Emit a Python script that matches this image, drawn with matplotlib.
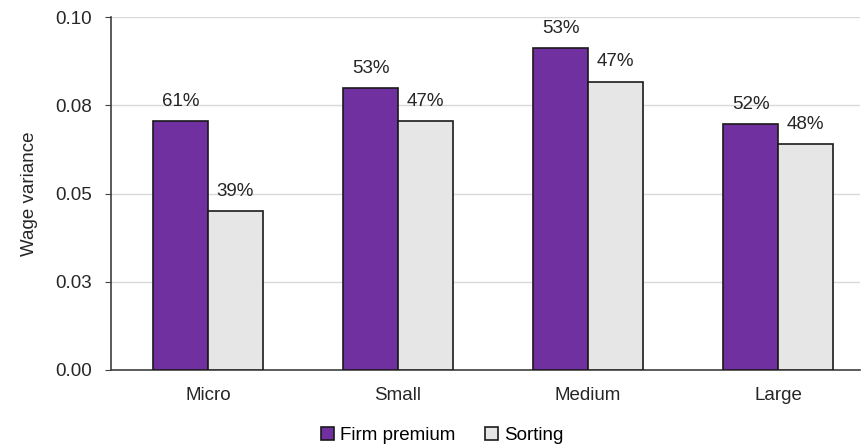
import numpy as np
import matplotlib.pyplot as plt

categories = ['Micro', 'Small', 'Medium', 'Large']
firm_premium = [0.0706, 0.0798, 0.0913, 0.0696]
sorting = [0.0450, 0.0704, 0.0817, 0.0641]
firm_labels = ['61%', '53%', '53%', '52%']
sorting_labels = ['39%', '47%', '47%', '48%']
y_ticks = [0.0, 0.025, 0.05, 0.075, 0.10]
y_tick_labels = ['0.00', '0.03', '0.05', '0.08', '0.10']

plt.rcParams['font.family'] = ['Liberation Sans', 'DejaVu Sans']
fs = 13.5

fig = plt.figure(figsize=(8.62, 4.45), dpi=100)
ax = fig.add_axes([111 / 862, 1 - 370 / 445, 749 / 862, 353 / 445])

x = np.arange(len(categories))
w = 0.29
b1 = ax.bar(x - w / 2, firm_premium, w, color='#7030A0', edgecolor='#1a1a1a',
            linewidth=1.2, label='Firm premium', zorder=3)
b2 = ax.bar(x + w / 2, sorting, w, color='#E6E6E6', edgecolor='#1a1a1a',
            linewidth=1.2, label='Sorting', zorder=3)

for bars, labels in [(b1, firm_labels), (b2, sorting_labels)]:
    for rect, lab in zip(bars, labels):
        ax.annotate(lab, (rect.get_x() + rect.get_width() / 2, rect.get_height()),
                    xytext=(0, 8), textcoords='offset points',
                    ha='center', va='bottom', fontsize=fs, color='#262626')

ax.set_xlim(-0.51, 3.43)
ax.set_ylim(0, 0.10)
ax.set_yticks(y_ticks)
ax.set_yticklabels(y_tick_labels)
ax.set_xticks(x)
ax.set_xticklabels(categories)
ax.tick_params(axis='y', length=4, color='#404040', labelsize=fs, labelcolor='#262626', pad=10)
ax.tick_params(axis='x', length=0, labelsize=fs, labelcolor='#262626', pad=12)
ax.grid(axis='y', color='#d9d9d9', linewidth=1, zorder=0)
ax.set_ylabel('Wage variance', fontsize=fs, color='#262626', labelpad=12)

for side in ['top', 'right']:
    ax.spines[side].set_visible(False)
ax.spines['left'].set_color('#404040')
ax.spines['bottom'].set_color('#404040')
ax.spines['left'].set_linewidth(1.2)
ax.spines['bottom'].set_linewidth(1.2)

fig.legend(handles=[b1, b2], loc='center', bbox_to_anchor=(0.513, 0.022),
           ncol=2, frameon=False, fontsize=fs, handlelength=0.7, handleheight=0.7,
           handletextpad=0.3, columnspacing=1.6, borderpad=0)

fig.savefig('out.png', dpi=100)
